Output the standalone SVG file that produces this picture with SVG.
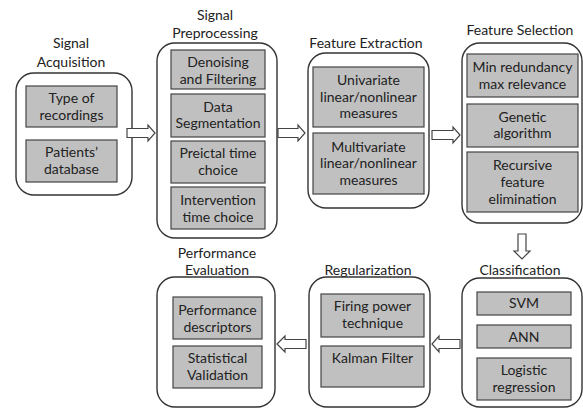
<svg xmlns="http://www.w3.org/2000/svg" width="583" height="408" viewBox="0 0 583 408">
<style>
.outer{fill:#fff;stroke:#333;stroke-width:1.4}
.inner{fill:#c0c0c0;stroke:#444;stroke-width:1.2}
text{font-family:Lato,"Open Sans",sans-serif;font-size:14px;fill:#222;text-anchor:middle}
.arr{fill:#fff;stroke:#444;stroke-width:1.2;stroke-linejoin:miter}
</style>
<rect width="583" height="408" fill="#fff"/>
<g id="signal-acquisition">
<text x="71" y="48">Signal</text><text x="71" y="67">Acquisition</text>
<rect class="outer" x="16" y="73" width="116" height="122" rx="18"/>
<rect class="inner" x="26" y="86" width="91" height="41"/>
<text x="71.5" y="103">Type of</text><text x="71.5" y="120">recordings</text>
<rect class="inner" x="26" y="140" width="91" height="42"/>
<text x="71.5" y="157">Patients’</text><text x="71.5" y="174">database</text>
</g>
<g id="signal-preprocessing">
<text x="215" y="20">Signal</text><text x="215" y="38">Preprocessing</text>
<rect class="outer" x="157" y="43" width="120" height="195" rx="18"/>
<rect class="inner" x="171" y="50" width="94" height="39"/>
<text x="218" y="67">Denoising</text><text x="218" y="84">and Filtering</text>
<rect class="inner" x="171" y="94" width="94" height="43"/>
<text x="218" y="112">Data</text><text x="218" y="128">Segmentation</text>
<rect class="inner" x="171" y="141" width="94" height="42"/>
<text x="218" y="158">Preictal time</text><text x="218" y="175">choice</text>
<rect class="inner" x="171" y="187" width="94" height="42"/>
<text x="218" y="205">Intervention</text><text x="218" y="222">time choice</text>
</g>
<g id="feature-extraction">
<text x="366" y="48">Feature Extraction</text>
<rect class="outer" x="308" y="53" width="121" height="155" rx="18"/>
<rect class="inner" x="313" y="67" width="111" height="60"/>
<text x="368.5" y="85">Univariate</text><text x="368.5" y="102">linear/nonlinear</text><text x="368.5" y="118">measures</text>
<rect class="inner" x="313" y="133" width="111" height="61"/>
<text x="368.5" y="152">Multivariate</text><text x="368.5" y="168">linear/nonlinear</text><text x="368.5" y="185">measures</text>
</g>
<g id="feature-selection">
<text x="520" y="35">Feature Selection</text>
<rect class="outer" x="462" y="43" width="120" height="180" rx="18"/>
<rect class="inner" x="467" y="54" width="111" height="43"/>
<text x="522.5" y="72">Min redundancy</text><text x="522.5" y="89">max relevance</text>
<rect class="inner" x="467" y="104" width="111" height="43"/>
<text x="522.5" y="122">Genetic</text><text x="522.5" y="138">algorithm</text>
<rect class="inner" x="467" y="152" width="111" height="60"/>
<text x="522.5" y="170">Recursive</text><text x="522.5" y="187">feature</text><text x="522.5" y="204">elimination</text>
</g>
<g id="classification">
<text x="520" y="275">Classification</text>
<rect class="outer" x="462" y="278" width="120" height="129" rx="18"/>
<rect class="inner" x="477" y="292" width="94" height="23"/>
<text x="524" y="308">SVM</text>
<rect class="inner" x="477" y="325" width="94" height="23"/>
<text x="524" y="342">ANN</text>
<rect class="inner" x="477" y="358" width="94" height="42"/>
<text x="524" y="375">Logistic</text><text x="524" y="392">regression</text>
</g>
<g id="regularization">
<text x="368" y="275">Regularization</text>
<rect class="outer" x="309" y="277" width="121" height="130" rx="18"/>
<rect class="inner" x="321" y="294" width="103" height="43"/>
<text x="372.5" y="311">Firing power</text><text x="372.5" y="328">technique</text>
<rect class="inner" x="321" y="346" width="103" height="41"/>
<text x="372.5" y="363">Kalman Filter</text>
</g>
<g id="performance-evaluation">
<text x="217" y="258">Performance</text><text x="217" y="275">Evaluation</text>
<rect class="outer" x="157" y="277" width="118" height="130" rx="18"/>
<rect class="inner" x="173" y="297" width="89" height="42"/>
<text x="217.5" y="315">Performance</text><text x="217.5" y="332">descriptors</text>
<rect class="inner" x="173" y="346" width="89" height="42"/>
<text x="217.5" y="363">Statistical</text><text x="217.5" y="380">Validation</text>
</g>
<g id="connectors">
<path class="arr" d="M127,128.5 H148 V125 L155,133 L148,141 V137.5 H127 Z"/>
<path class="arr" d="M278,128.5 H298 V125 L305,133 L298,141 V137.5 H278 Z"/>
<path class="arr" d="M432,130.5 H453 V127 L460,135 L453,143 V139.5 H432 Z"/>
<path class="arr" d="M518,234 V251 H514 L522,259 L530,251 H526 V234 Z"/>
<path class="arr" d="M460,339.5 H439 V336 L432,344 L439,352 V348.5 H460 Z"/>
<path class="arr" d="M306,339.5 H285 V336 L277,344 L285,352 V348.5 H306 Z"/>
</g>
</svg>
